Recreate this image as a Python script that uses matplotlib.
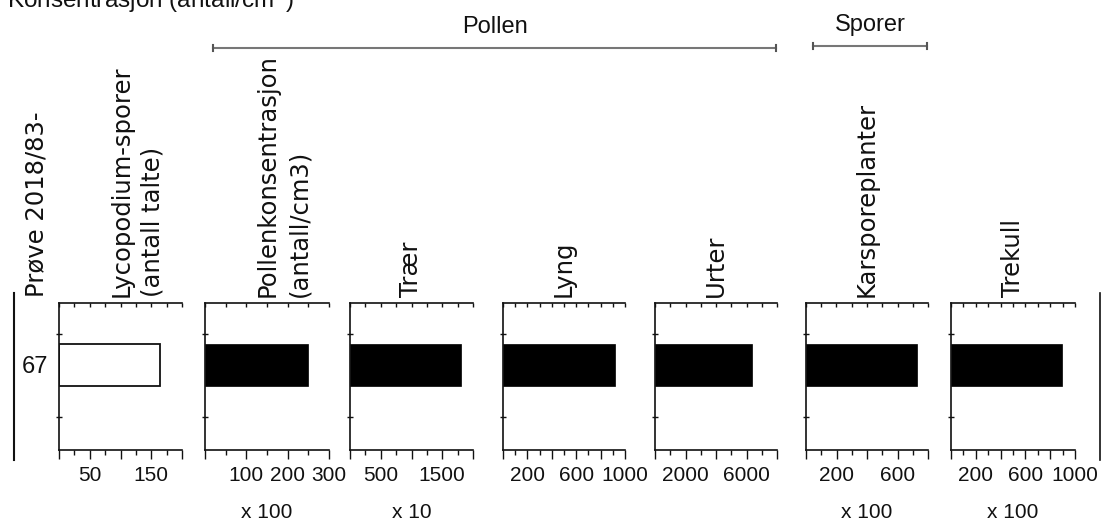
import numpy as np
import matplotlib
matplotlib.use("Agg")
import matplotlib.pyplot as plt

W, H = 1102, 522

# data
sample = ["67"]
names = ["Lycopodium-sporer\n(antall talte)", "Pollenkonsentrasjon\n(antall/cm3)",
         "Trær", "Lyng", "Urter", "Karsporeplanter", "Trekull"]
values = [165, 250, 1800, 920, 6350, 726, 893]
xmax = [200, 300, 2000, 1000, 8000, 800, 1000]
major_step = [50, 100, 500, 200, 2000, 200, 200]
minor_step = [25, 50, 250, 100, 1000, 100, 100]
labeled = [[50, 150], [100, 200, 300], [500, 1500], [200, 600, 1000],
           [2000, 6000], [200, 600], [200, 600, 1000]]
multiplier = ["", "x 100", "x 10", "", "", "x 100", "x 100"]

# layout in pixels (left, right) of each panel
panel_x = [(59, 182), (205, 329), (350, 473), (503, 625),
           (655, 777), (806, 928), (951, 1075)]
top_px, bot_px = 303, 450

plt.rcParams['font.family'] = ['Liberation Sans', 'DejaVu Sans']

fig = plt.figure(figsize=(W / 100, H / 100), dpi=100)


def fx(x):
    return x / W


def fy(y):
    return 1 - y / H


ink = "#111111"
for i in range(len(names)):
    x0, x1 = panel_x[i]
    ax = fig.add_axes([fx(x0), fy(bot_px), (x1 - x0) / W, (bot_px - top_px) / H])
    if i == 0:
        ax.barh([0], [values[i]], height=1, color="white", edgecolor=ink, linewidth=1.3)
    else:
        ax.barh([0], [values[i]], height=1, color="black", edgecolor="black", linewidth=0.5)
    ax.set_xlim(0, xmax[i])
    ax.set_ylim(2.05, -1.49)

    for s in ["right", "top"]:
        ax.spines[s].set_visible(False)
    for s in ["left", "bottom"]:
        ax.spines[s].set_linewidth(1.2)
        ax.spines[s].set_color(ink)

    major = np.arange(0, xmax[i] + 1, major_step[i])
    minor = np.arange(0, xmax[i] + 1, minor_step[i])
    ax.set_xticks(major, labels=[str(v) if v in labeled[i] else "" for v in major])
    ax.set_xticks(minor, minor=True)
    ax.tick_params(axis="x", which="major", direction="out", length=6.5, width=1.0,
                   pad=5, labelsize=15, color=ink, labelcolor=ink)
    ax.tick_params(axis="x", which="minor", direction="out", length=3.5, width=1.0, color=ink)

    ax.set_yticks([0] if i == 0 else [], labels=sample if i == 0 else [])
    ax.set_yticks([-0.75, 1.25], minor=True)
    ax.tick_params(axis="y", which="major", length=0, pad=8, labelsize=17, labelcolor=ink)
    ax.tick_params(axis="y", which="minor", direction="inout", length=4, width=1.0, color=ink)

    top = ax.secondary_xaxis("top")
    top.set_xticks(minor, labels=[])
    top.tick_params(axis="x", which="major", direction="in", length=3, width=1.0, color=ink)
    top.spines["top"].set_linewidth(1.2)
    top.spines["top"].set_color(ink)

    # column header
    cx = (x0 + x1) / 2
    nlines = names[i].count("\n") + 1
    fig.text(fx(cx + (nlines - 1) * 16.5), fy(297), names[i], rotation=90,
             rotation_mode="anchor", ha="left", va="center", family="DejaVu Sans",
             fontsize=17.5, color=ink, linespacing=1.4)
    if multiplier[i]:
        fig.text(fx(cx), fy(513), multiplier[i], ha="center", va="center",
                 fontsize=15, color=ink)

# sample column
fig.text(fx(37), fy(297), "Prøve 2018/83-", rotation=90, rotation_mode="anchor",
         ha="left", va="center", family="DejaVu Sans", fontsize=17.5, color=ink)
fig.add_artist(plt.Line2D([fx(13.5), fx(13.5)], [fy(293), fy(460)], color=ink, lw=1.5))
fig.add_artist(plt.Line2D([fx(1100), fx(1100)], [fy(293), fy(460)], color=ink, lw=1.2))

# group brackets
groups = [("Pollen", 213, 776, 48, 27), ("Sporer", 813, 927, 46, 25)]
for label, a, b, ly, ty in groups:
    fig.add_artist(plt.Line2D([fx(a), fx(b)], [fy(ly), fy(ly)], color="#777777", lw=1.5))
    for e in (a, b):
        fig.add_artist(plt.Line2D([fx(e), fx(e)], [fy(ly - 3), fy(ly + 3)], color="#555555", lw=1.5))
    fig.text(fx((a + b) / 2), fy(ty), label, ha="center", va="center", fontsize=17, color=ink)

fig.text(fx(7), fy(9), "Konsentrasjon (antall/cm$^{3}$)", ha="left", va="baseline",
         fontsize=17.5, color=ink)

fig.savefig("out.png", dpi=100)
